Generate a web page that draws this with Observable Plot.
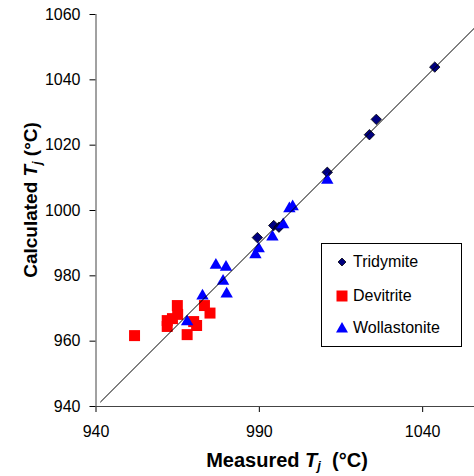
<!DOCTYPE html>
<html><head><meta charset="utf-8">
<script src="https://cdn.jsdelivr.net/npm/d3@7"></script>
<script src="https://cdn.jsdelivr.net/npm/@observablehq/plot@0.6"></script>
<style>
body{margin:0;background:#fff;font-family:"Liberation Sans",Arial,sans-serif;}
#wrap{position:relative;width:474px;height:476px;overflow:hidden;}
#legend{position:absolute;left:321px;top:243px;width:139px;height:102px;border:1px solid #000;background:#fff;font-size:16px;color:#000;}
.row{position:absolute;left:13px;height:20px;display:flex;align-items:center;}
.row svg{margin-right:4px;}
</style></head><body><div id="wrap"></div>
<script>
// Series: measured (x) and calculated (y) Tj, °C
const tridymiteX = [989.4, 994.4, 996.0, 1010.8, 1023.7, 1025.8, 1043.7];
const tridymiteY = [991.7, 995.4, 994.9, 1011.7, 1023.2, 1027.9, 1043.9];
const devitriteX = [951.8, 961.8, 961.8, 964.9, 965.0, 963.4, 967.9, 969.9, 970.8, 973.2, 974.9];
const devitriteY = [961.7, 966.3, 964.5, 970.9, 968.2, 966.9, 962.0, 966.0, 964.8, 970.9, 968.6];
const wollastoniteX = [967.9, 972.6, 976.7, 979.8, 978.9, 980.0, 988.8, 989.8, 994.0, 997.3, 999.2, 1000.2, 1010.8];
const wollastoniteY = [966.5, 974.4, 983.8, 983.2, 978.9, 975.0, 987.0, 988.8, 992.4, 996.2, 1001.1, 1001.7, 1009.8];
const parityLine = [941.4, 1058];
const xTicks = [940, 990, 1040];
const yTicks = [940, 960, 980, 1000, 1020, 1040, 1060];
const seriesNames = ["Tridymite", "Devitrite", "Wollastonite"];

const pts = (xs, ys) => xs.map((x, i) => ({x, y: ys[i]}));
const tri = pts(tridymiteX, tridymiteY);
const dev = pts(devitriteX, devitriteY);
const wol = pts(wollastoniteX, wollastoniteY);

const plot = Plot.plot({
  width: 474, height: 476,
  marginLeft: 95.5, marginRight: 0, marginTop: 14, marginBottom: 70,
  style: {fontFamily: "'Liberation Sans', Arial, sans-serif", fontSize: "16px", color: "#000", background: "#fff"},
  x: {domain: [940, 1060], range: [95.5, 487.5], ticks: xTicks, tickFormat: d => String(d), tickSize: 6, tickPadding: 13, label: null},
  y: {domain: [940, 1060], ticks: yTicks, tickFormat: d => String(d), tickSize: 6, tickPadding: 9.5, label: null},
  marks: [
    Plot.ruleX([940], {stroke: "#444"}),
    Plot.ruleY([940], {stroke: "#444"}),
    Plot.dot(tri, {x: "x", y: "y", symbol: "diamond2", r: 4.7, fill: "#000080", stroke: "#000", strokeWidth: 0.8}),
    Plot.dot(dev, {x: "x", y: "y", symbol: "square", r: 6.2, fill: "#ff0000", stroke: "none"}),
    Plot.dot(wol, {x: "x", y: "y", symbol: "triangle", r: 4.6, fill: "#0000ff", stroke: "none", dy: 1.7}),
    Plot.line(parityLine, {x: d => d, y: d => d, stroke: "#000", strokeWidth: 1})
  ]
});
document.getElementById("wrap").appendChild(plot);

const svg = d3.select(plot);
const xt = svg.append("text").attr("x", 287).attr("y", 467).attr("text-anchor", "middle")
  .attr("font-size", 20).attr("font-weight", "bold").attr("fill", "#000");
xt.append("tspan").text("Measured ");
xt.append("tspan").attr("font-style", "italic").text("T");
xt.append("tspan").attr("font-style", "italic").attr("font-size", 13).attr("dy", 3).text("j");
xt.append("tspan").attr("dy", -3).text("\u00a0 (°C)");

const yt = svg.append("text").attr("transform", "translate(37,200) rotate(-90)").attr("text-anchor", "middle")
  .attr("font-size", 19).attr("font-weight", "bold").attr("fill", "#000");
yt.append("tspan").text("Calculated ");
yt.append("tspan").attr("font-style", "italic").text("T");
yt.append("tspan").attr("font-style", "italic").attr("font-size", 12).attr("dy", 4).text("j");
yt.append("tspan").attr("dy", -4).text(" (°C)");

// Legend overlay
const legend = d3.select("#wrap").append("div").attr("id", "legend");
const symbols = [
  {name: seriesNames[0], shape: d3.symbolDiamond2, size: 40, fill: "#000080", stroke: "#000"},
  {name: seriesNames[1], shape: d3.symbolSquare, size: 121, fill: "#ff0000", stroke: "none"},
  {name: seriesNames[2], shape: d3.symbolTriangle, size: 62, fill: "#0000ff", stroke: "none"}
];
const rowTops = [8, 42, 74];
symbols.forEach((s, i) => {
  const row = legend.append("div").attr("class", "row").style("top", rowTops[i] + "px");
  const sv = row.append("svg").attr("width", 14).attr("height", 14);
  sv.append("path").attr("transform", "translate(7," + (i === 2 ? 8 : 7) + ")")
    .attr("d", d3.symbol(s.shape, s.size)()).attr("fill", s.fill).attr("stroke", s.stroke).attr("stroke-width", 0.8);
  row.append("span").text(s.name);
});
</script>
</body></html>
